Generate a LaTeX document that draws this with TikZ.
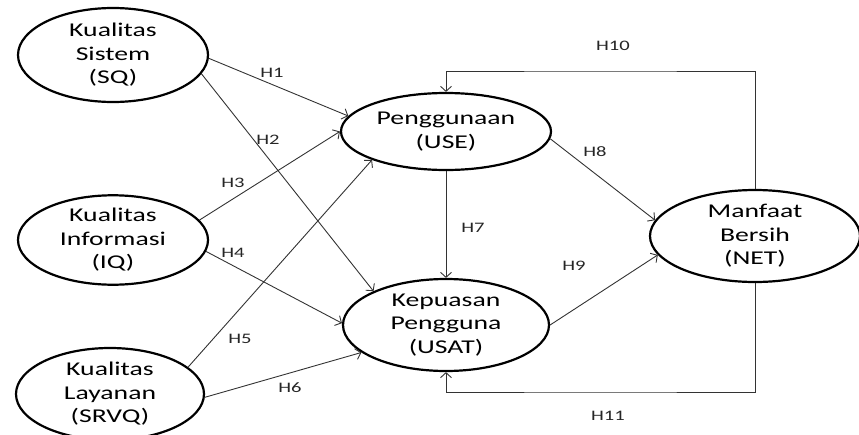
\documentclass[tikz,border=0pt]{standalone}
\usepackage{fontspec}
\setmainfont{Carlito}[FakeStretch=1.42]
\usetikzlibrary{shapes.geometric, arrows.meta, positioning}

\begin{document}
\begin{tikzpicture}[x = 1pt, y = -1pt]
        \tikzstyle{latent} = [ellipse, draw = black, line width = 2.2pt, inner sep = 0pt, align = center, font = \fontsize{19.5}{23.5}\selectfont]
        \tikzstyle{connect} = [-{Straight Barb[length = 5pt, width = 11pt]}, line width = 0.9pt, draw = black!80]
        \tikzstyle{hyp} = [font = \fontsize{14.5}{16}\selectfont, text = black!85, inner sep = 1pt]
        \useasboundingbox (0,0) rectangle (859,434);
        % constructs
        \node[latent, minimum width = 190pt, minimum height = 94pt] (sq) at (113,55) {Kualitas\\Sistem\\(SQ)};
        \node[latent, minimum width = 190pt, minimum height = 86pt] (iq) at (113,240) {Kualitas\\Informasi\\(IQ)};
        \node[latent, minimum width = 188pt, minimum height = 92pt] (srvq) at (110,394) {Kualitas\\Layanan\\(SRVQ)};
        \node[latent, minimum width = 210pt, minimum height = 77pt] (use) at (446,131.5) {Penggunaan\\(USE)};
        \node[latent, minimum width = 206pt, minimum height = 92pt] (usat) at (446,325) {Kepuasan\\Pengguna\\(USAT)};
        \node[latent, minimum width = 210pt, minimum height = 92pt] (net) at (755,236) {Manfaat\\Bersih\\(NET)};
        \coordinate (top) at (600,71);
        \coordinate (bottom) at (600,392);
        % hypotheses
        \node[hyp] (h1) at (272,73) {H1};
        \node[hyp] (h2) at (268,140) {H2};
        \node[hyp] (h3) at (233,183) {H3};
        \node[hyp] (h4) at (233,253) {H4};
        \node[hyp] (h5) at (240,339) {H5};
        \node[hyp] (h6) at (290,388) {H6};
        \node[hyp] (h7) at (473,228) {H7};
        \node[hyp] (h8) at (595,152) {H8};
        \node[hyp] (h9) at (574,266) {H9};
        \node[hyp] (h10) at (613,46) {H10};
        \node[hyp] (h11) at (608,416) {H11};
        \path (sq.-2) edge [connect] (use.171)
              (sq.-12) edge [connect] (usat.155)
              (iq.13) edge [connect] (use.180)
              (iq.-7) edge [connect] (usat.179)
              (srvq.19) edge [connect] (use.201)
              (srvq.-2) edge [connect] (usat.198)
              (use.south) edge [connect] (usat.north)
              (use.-4) edge [connect] (net.171)
              (usat.0) edge [connect] (net.191);
        \draw[connect] (net.north) |- (top) -| (use.north);
        \draw[connect] (net.south) |- (bottom) -| (usat.south);
      \end{tikzpicture}
\end{document}
